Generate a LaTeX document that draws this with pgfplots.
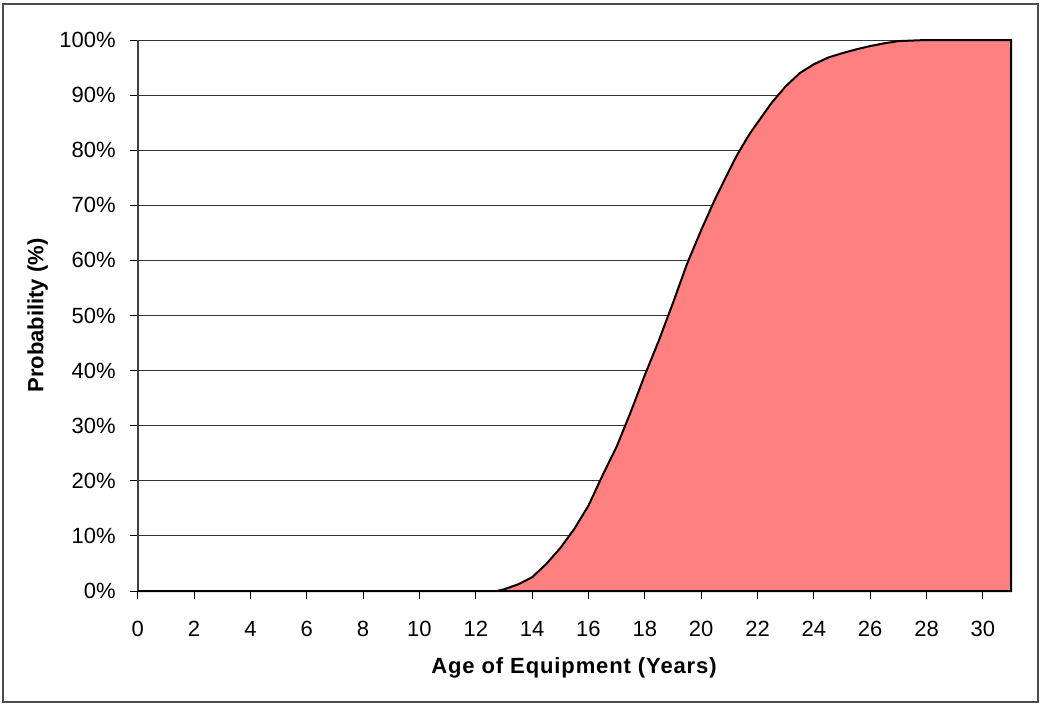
\documentclass[border=0pt]{standalone}
\usepackage{fontspec}
\setmainfont{Liberation Sans}
\usepackage{pgfplots}
\usepackage{pgfplotstable}
\pgfplotsset{compat=1.18}
\definecolor{areafill}{RGB}{255,128,128}
\pgfplotstableread{
x y
0 0
12.75 0
13.0 0.3
13.5 1.2
14.0 2.5
14.5 4.9
15.0 7.8
15.5 11.3
16.0 15.5
16.5 21.0
17.0 26.2
17.5 32.5
18.0 39.2
18.5 45.5
19.0 52.3
19.5 59.4
20.0 65.5
20.5 71.2
21.0 76.4
21.25 78.9
21.5 81.1
21.75 83.2
22.0 85.0
22.5 88.6
23.0 91.6
23.5 94.0
24.0 95.6
24.5 96.8
25.0 97.6
25.5 98.3
26.0 98.9
26.5 99.4
27.0 99.8
27.5 99.9
28.0 100
31.0 100
}\cdfdata
\begin{document}
\begin{tikzpicture}[font=\fontsize{11}{13}\selectfont]
\begin{axis}[
  scale only axis, width=436.7pt, height=275.5pt,
  at={(0,0)}, anchor=south west,
  xmin=0, xmax=31, ymin=0, ymax=100,
  axis x line*=bottom, axis y line*=left,
  xtick={0,2,...,30}, ytick={0,10,...,100},
  yticklabel={\pgfmathprintnumber{\tick}\%},
  /pgf/number format/assume math mode=true,
  xticklabel style={yshift=-7.5pt},
  yticklabel style={xshift=-3.5pt},
  ymajorgrids, grid style={black!80, line width=0.5pt},
  tick align=outside, major tick length=4pt,
  tick style={black, line width=0.5pt},
  x axis line style={black, line width=1pt, -},
  y axis line style={black!75, line width=1pt, -},
  xlabel={\addfontfeatures{LetterSpace=4}\textbf{Age of Equipment (Years)}},
  ylabel={\textbf{Probability (\%)}},
  xlabel style={at={(axis description cs:0.5,-0.1397)}, anchor=center},
  ylabel style={at={(axis description cs:-0.1145,0.5)}, anchor=center},
  clip=false,
]
\addplot[fill=areafill, draw=black, line width=1pt] table[x=x,y=y] {\cdfdata} \closedcycle;
\end{axis}
\path (-68.85pt,-56pt) rectangle (451.65pt,295.5pt);
\draw[black!70, line width=0.6pt] (-67.35pt,-55.5pt) rectangle (450.15pt,293.5pt);
\end{tikzpicture}
\end{document}
